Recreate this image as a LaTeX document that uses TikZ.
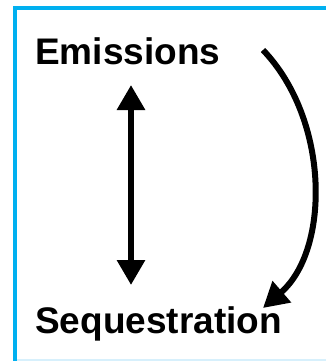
\documentclass[tikz,border=0pt]{standalone}
\usepackage{fontspec}
\setmainfont{Liberation Sans}
\usetikzlibrary{arrows.meta}
\definecolor{boxblue}{RGB}{0,176,240}
\definecolor{boxpale}{RGB}{215,240,252}
\tikzset{
	label/.style={inner sep=0pt, anchor=base west, font=\fontsize{37}{40}\selectfont\bfseries},
	flow/.style={line width=6, -{Triangle[length=25, width=27]}},
}

\begin{document}
\begin{tikzpicture}[x=1pt, y=-1pt]
			%%%%% START %%%%%
			\useasboundingbox (0, 0) rectangle (326, 361);
			
			\draw[boxpale, line width=2] (15, 359.5) -- (330, 359.5);
			\draw[boxblue, line width=4] (15, 361) -- (15, 8) -- (330, 8);
			
			\node[label] (emis) at (35, 64) {Emissions};
			\node[label] (seq) at (35, 333) {Sequestration};
			
			\coordinate (up) at (131, 85);
			\coordinate (down) at (131, 285);
			\draw[flow, {Triangle[length=25, width=27]}-{Triangle[length=25, width=27]}] (up) -- (down);
			
			\coordinate (from) at (263, 50);
			\coordinate (to) at (263, 308);
			\draw[flow] (from) .. controls (330, 120) and (330, 250) .. (to);
			%%%%% END %%%%%
		\end{tikzpicture}
\end{document}
